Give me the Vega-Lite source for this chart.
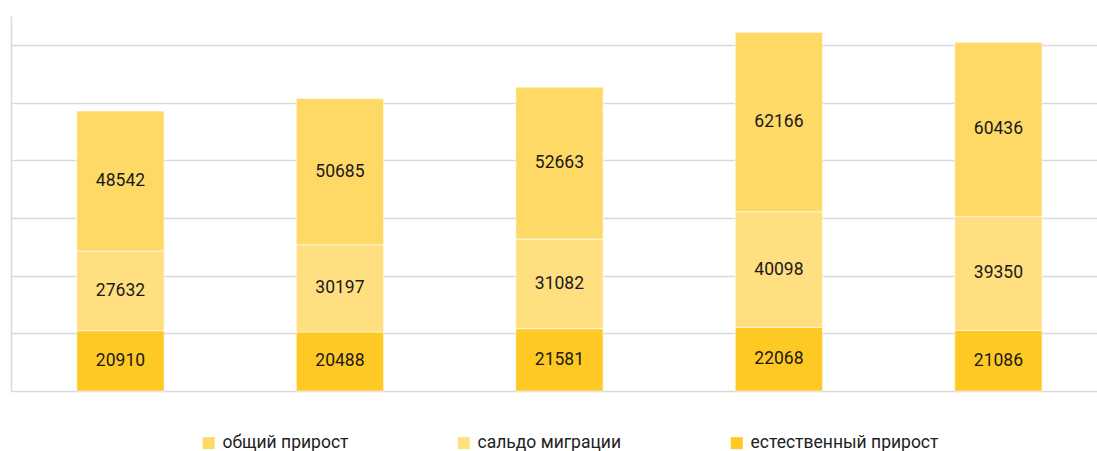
{
  "$schema": "https://vega.github.io/schema/vega-lite/v6.json",
  "width": 1086,
  "height": 375,
  "padding": {"left": 11, "top": 16, "right": 0, "bottom": 0},
  "background": "#ffffff",
  "config": {"view": {"stroke": null}, "font": "Roboto"},
  "data": {
    "values": [
      {"cat": "1", "series": "естественный прирост", "value": 20910},
      {"cat": "1", "series": "сальдо миграции", "value": 27632},
      {"cat": "1", "series": "общий прирост", "value": 48542},
      {"cat": "2", "series": "естественный прирост", "value": 20488},
      {"cat": "2", "series": "сальдо миграции", "value": 30197},
      {"cat": "2", "series": "общий прирост", "value": 50685},
      {"cat": "3", "series": "естественный прирост", "value": 21581},
      {"cat": "3", "series": "сальдо миграции", "value": 31082},
      {"cat": "3", "series": "общий прирост", "value": 52663},
      {"cat": "4", "series": "естественный прирост", "value": 22068},
      {"cat": "4", "series": "сальдо миграции", "value": 40098},
      {"cat": "4", "series": "общий прирост", "value": 62166},
      {"cat": "5", "series": "естественный прирост", "value": 21086},
      {"cat": "5", "series": "сальдо миграции", "value": 39350},
      {"cat": "5", "series": "общий прирост", "value": 60436}
    ]
  },
  "transform": [
    {"calculate": "indexof(['естественный прирост','сальдо миграции','общий прирост'], datum.series)", "as": "ord"},
    {"stack": "value", "groupby": ["cat"], "sort": [{"field": "ord", "order": "ascending"}], "as": ["v0", "v1"]},
    {"calculate": "(datum.v0 + datum.v1) / 2", "as": "mid"}
  ],
  "encoding": {
    "x": {
      "field": "cat",
      "type": "nominal",
      "axis": null,
      "scale": {"paddingInner": 0.602, "paddingOuter": 0.275, "align": 0.545}
    }
  },
  "layer": [
    {
      "mark": {"type": "bar", "stroke": "#ffffff", "strokeWidth": 0.6},
      "encoding": {
        "y": {
          "field": "v1",
          "type": "quantitative",
          "scale": {"domain": [0, 130000], "nice": false},
          "axis": {
            "title": null,
            "labels": false,
            "ticks": false,
            "values": [0, 20000, 40000, 60000, 80000, 100000, 120000],
            "grid": true,
            "gridColor": "#d9d9d9",
            "gridWidth": 1.5,
            "domainColor": "#d9d9d9",
            "domainWidth": 1.5
          }
        },
        "y2": {"field": "v0"},
        "color": {
          "field": "series",
          "type": "nominal",
          "scale": {
            "domain": ["общий прирост", "сальдо миграции", "естественный прирост"],
            "range": ["#FFD966", "#FFDF80", "#FFC923"]
          },
          "legend": {
            "title": null,
            "orient": "none",
            "direction": "horizontal",
            "legendX": 189,
            "legendY": 418,
            "symbolType": "square",
            "symbolSize": 144,
            "symbolStrokeWidth": 0,
            "symbolOffset": 0,
            "labelFontSize": 17.5,
            "labelFont": "Roboto",
            "labelColor": "#222222",
            "labelOffset": 5,
            "labelLimit": 400,
            "columnPadding": 106
          }
        }
      }
    },
    {
      "mark": {"type": "text", "fontSize": 17.5, "font": "Roboto", "color": "#1a1a1a"},
      "encoding": {
        "y": {"field": "mid", "type": "quantitative"},
        "text": {"field": "value", "type": "quantitative", "format": "d"}
      }
    }
  ]
}
